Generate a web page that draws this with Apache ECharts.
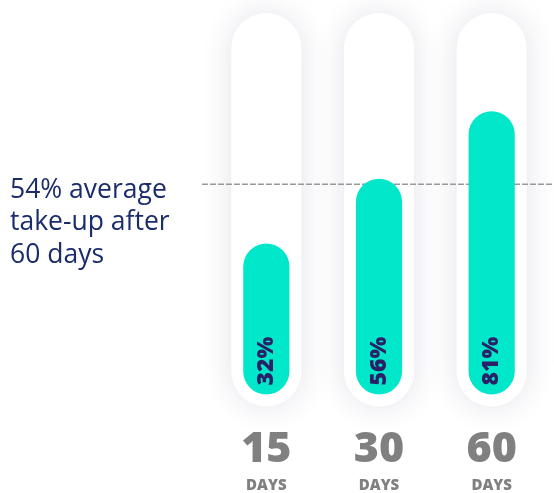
<!DOCTYPE html>
<html>
<head>
<meta charset="utf-8">
<script src="https://cdn.jsdelivr.net/npm/echarts@6/dist/echarts.min.js"></script>
<style>
html,body{margin:0;padding:0;background:#fff;}
#chart{width:554px;height:493px;}
</style>
</head>
<body>
<div id="chart"></div>
<script>
const categories = ['15', '30', '60'];
const unitLabel = 'DAYS';
const takeUp = [32, 56, 81];
const averageTakeUp = 54;
const noteText = ['54% average', 'take-up after', '60 days'];

const yMin = -24, yMax = 113;
const teal = '#00E8C9';
const pad = 12;

const chart = echarts.init(document.getElementById('chart'));

function pillRender(params, api) {
  const x = api.value(0);
  const c = api.coord([x, yMin]);
  const w = api.size([1, 0])[0] * 0.41 + pad * 2;
  const cs = params.coordSys;
  return {
    type: 'rect',
    shape: { x: c[0] - w / 2, y: cs.y - pad, width: w, height: cs.height + pad * 2, r: w / 2 },
    style: { fill: '#ffffff', shadowBlur: 30, shadowColor: 'rgba(60,60,110,0.14)' }
  };
}

function barRender(params, api) {
  const x = api.value(0);
  const v = api.value(1);
  const top = api.coord([x, v]);
  const base = api.coord([x, yMin]);
  const w = api.size([1, 0])[0] * 0.41;
  return {
    type: 'group',
    children: [
      {
        type: 'rect',
        shape: { x: top[0] - w / 2, y: top[1], width: w, height: base[1] - top[1], r: w / 2 },
        style: { fill: teal }
      },
      {
        type: 'text',
        x: top[0] + 0,
        y: base[1] - 9,
        rotation: Math.PI / 2,
        style: {
          text: v + '%',
          font: '800 23px "Open Sans"',
          fill: '#2b1f68',
          align: 'left',
          verticalAlign: 'middle'
        }
      }
    ]
  };
}

chart.setOption({
  animation: false,
  backgroundColor: '#ffffff',
  grid: { left: 210, right: 6, top: 25, bottom: 98 },
  xAxis: {
    type: 'category',
    data: categories,
    axisLine: { show: false },
    axisTick: { show: false },
    axisLabel: {
      margin: 31,
      formatter: function (v) { return '{num|' + v + '}\n{unit|' + unitLabel + '}'; },
      rich: {
        num: { fontFamily: 'Open Sans', fontWeight: 800, fontSize: 43, color: '#808080', lineHeight: 48 },
        unit: { fontFamily: 'Open Sans', fontWeight: 800, fontSize: 15, color: '#808080', lineHeight: 24 }
      }
    }
  },
  yAxis: {
    type: 'value', min: yMin, max: yMax,
    show: false, splitLine: { show: false }
  },
  series: [
    {
      type: 'custom', renderItem: pillRender, silent: true, z: 1,
      data: categories.map((c, i) => [i, yMax])
    },
    {
      type: 'custom', renderItem: barRender, silent: true, z: 3,
      data: takeUp.map((v, i) => [i, v])
    }
  ]
});

const yLine = chart.convertToPixel({ yAxisIndex: 0 }, averageTakeUp);
chart.setOption({
  graphic: [
    {
      type: 'line', z: 2, silent: true,
      shape: { x1: 202, y1: yLine, x2: 554, y2: yLine },
      style: { stroke: '#999999', lineWidth: 1.5, lineDash: [6, 2] }
    },
    {
      type: 'text', silent: true,
      x: 10, y: 174,
      style: {
        text: noteText.join('\n'),
        font: '26.5px "Open Sans"',
        fill: '#1a2c6b',
        lineHeight: 32.5,
        align: 'left',
        verticalAlign: 'top'
      }
    }
  ]
});
</script>
</body>
</html>
